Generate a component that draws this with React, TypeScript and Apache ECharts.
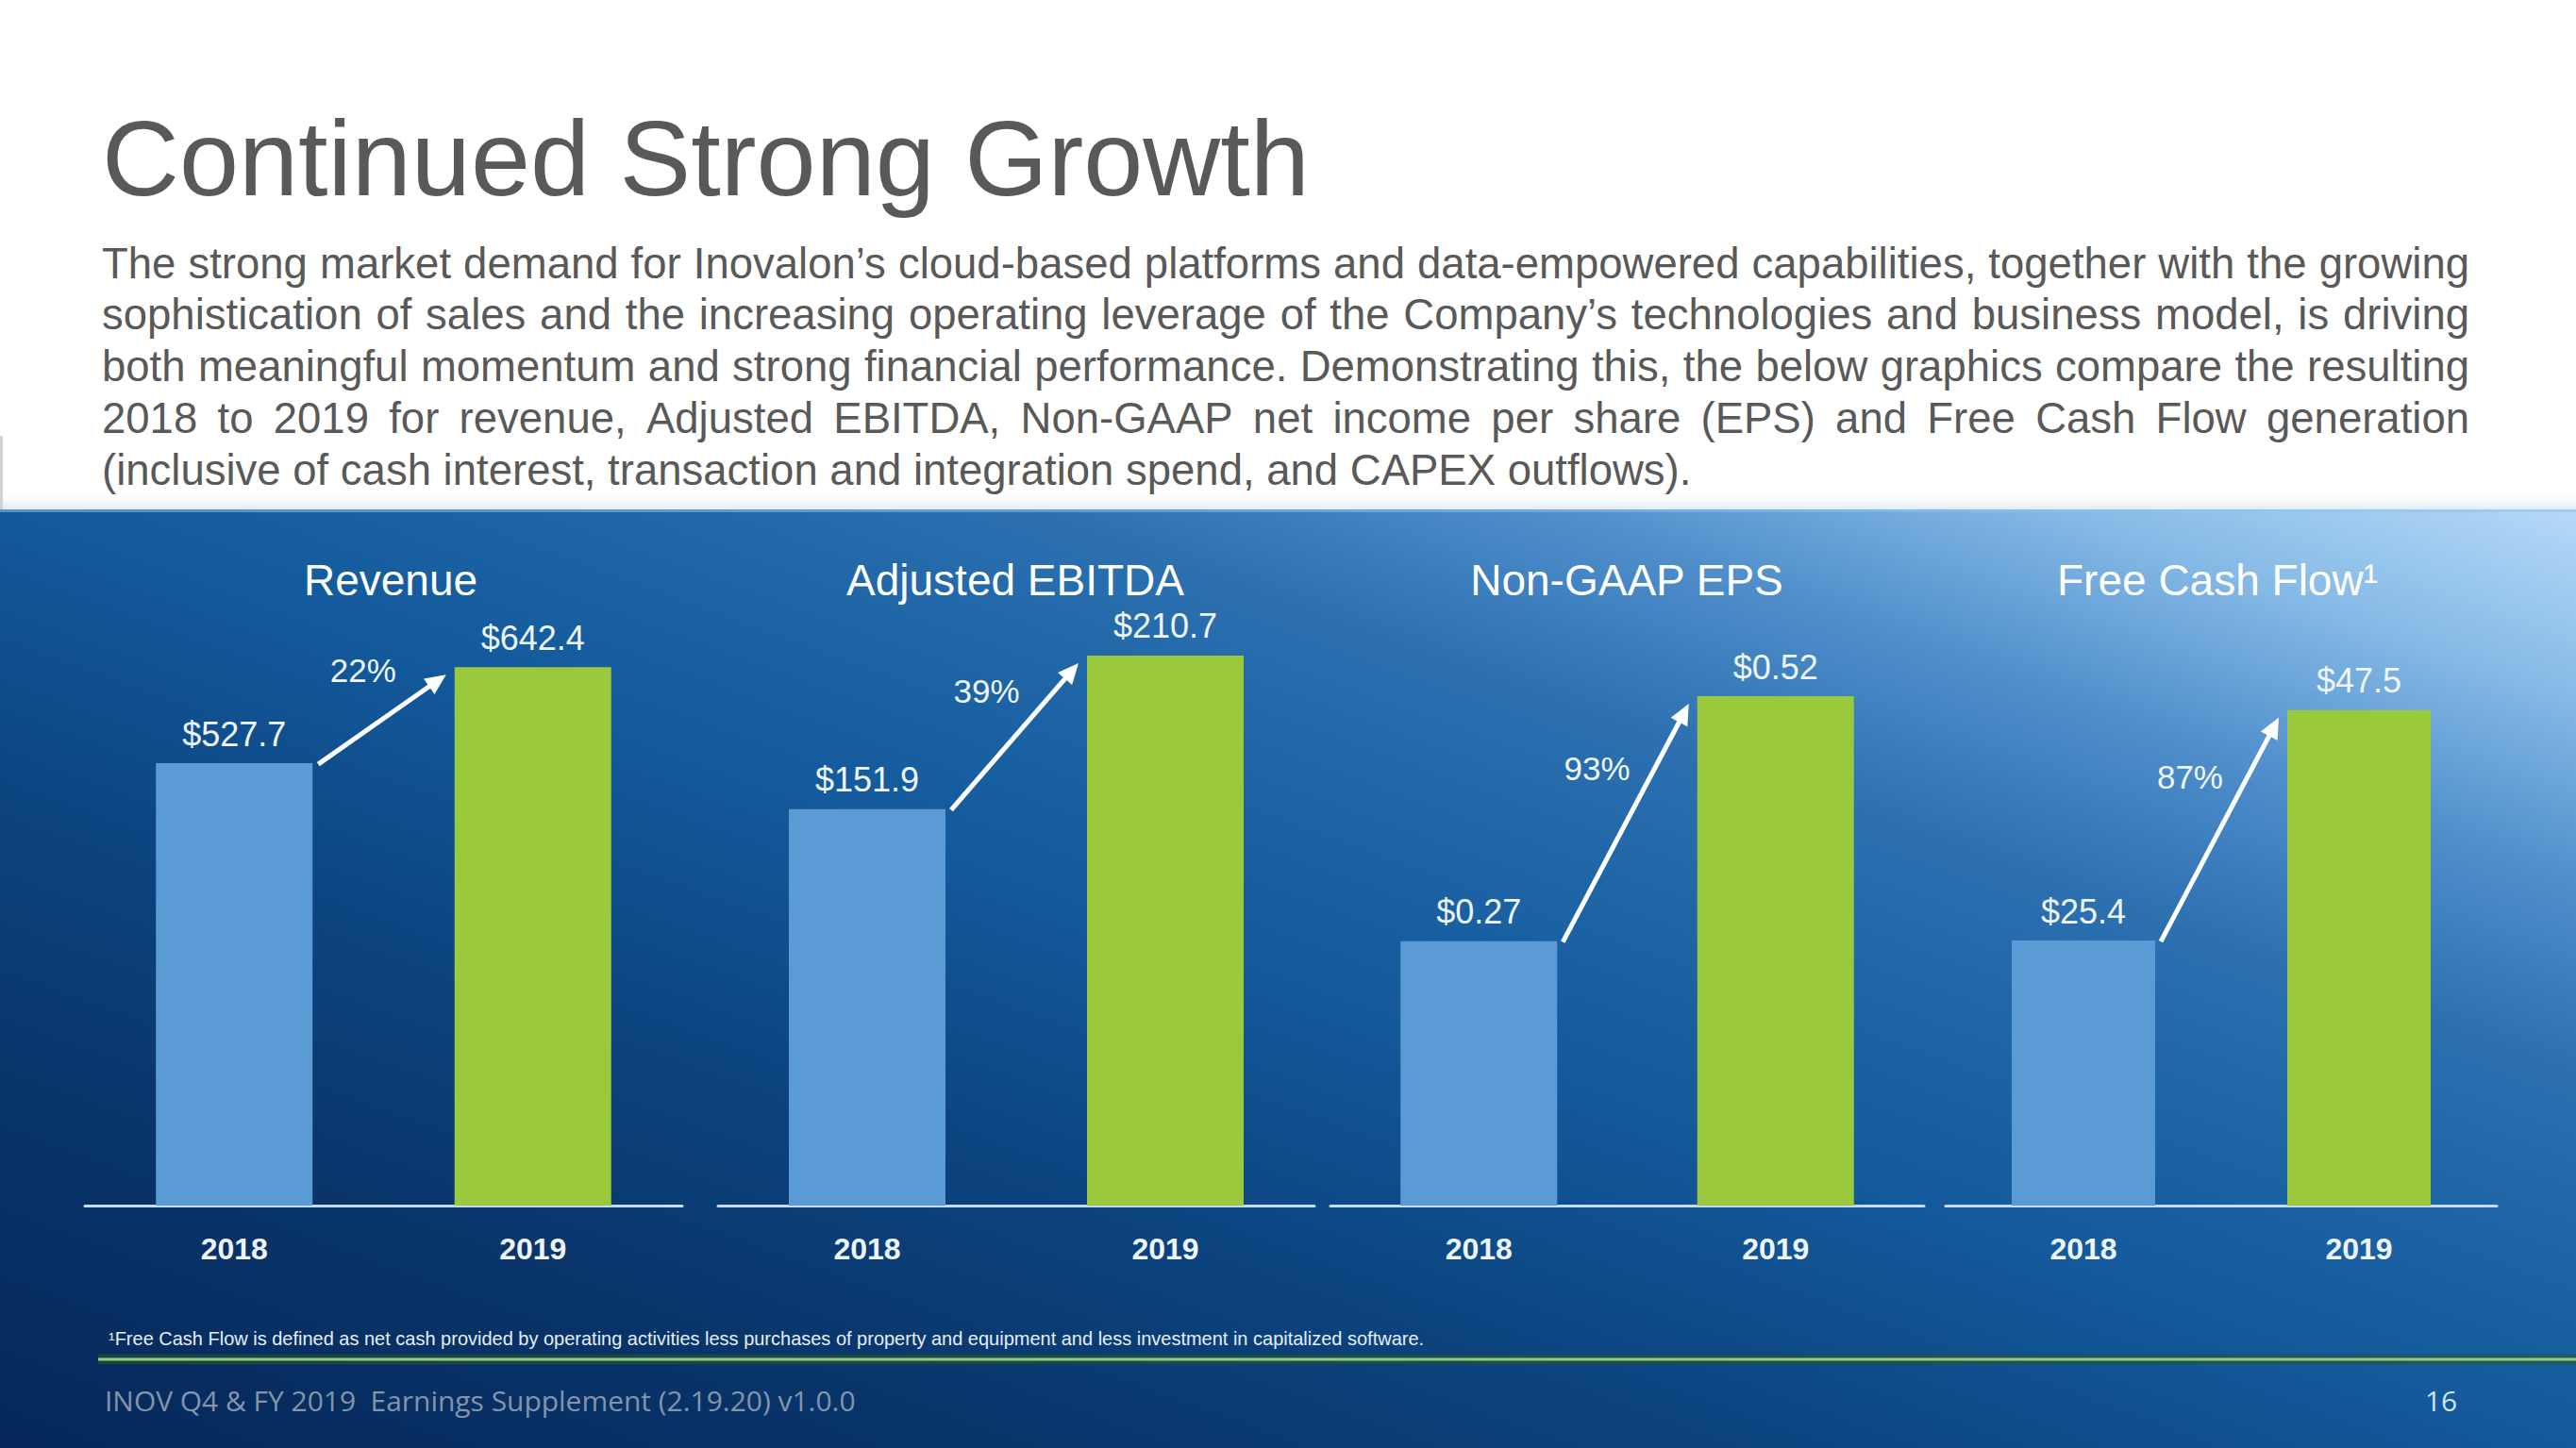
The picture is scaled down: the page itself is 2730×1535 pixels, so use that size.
import React, { useEffect, useRef } from 'react';
import * as echarts from 'echarts';

// ---------- data ----------
const categories = ['2018', '2019'];
const chartTitles = ['Revenue', 'Adjusted EBITDA', 'Non-GAAP EPS', 'Free Cash Flow¹'];
const values2018 = [527.7, 151.9, 0.27, 25.4];
const values2019 = [642.4, 210.7, 0.52, 47.5];
const decimals = [1, 1, 2, 1];
const growthLabels = ['22%', '39%', '93%', '87%'];

const slideTitle = 'Continued Strong Growth';
const paragraphLines = [
  'The strong market demand for Inovalon’s cloud-based platforms and data-empowered capabilities, together with the growing',
  'sophistication of sales and the increasing operating leverage of the Company’s technologies and business model, is driving',
  'both meaningful momentum and strong financial performance. Demonstrating this, the below graphics compare the resulting',
  '2018 to 2019 for revenue, Adjusted EBITDA, Non-GAAP net income per share (EPS) and Free Cash Flow generation',
  '(inclusive of cash interest, transaction and integration spend, and CAPEX outflows).',
];
const footnote =
  '¹Free Cash Flow is defined as net cash provided by operating activities less purchases of property and equipment and less investment in capitalized software.';
const footerText = 'INOV Q4 & FY 2019  Earnings Supplement (2.19.20) v1.0.0';
const pageNumber = '16';

// ---------- layout ----------
const W = 2730;
const H = 1535;
const PANEL_TOP = 540;
const gridLefts = [90, 761, 1410, 2062];
const gridWidths = [633, 632, 629, 584];
const gridTop = 600;
const axisY = 1278;
const yMaxes = [763, 245, 0.653, 61.3];
const barWidths = [166, 166, 166, 152];
const titleCenters = [414, 1076, 1724, 2350];
const labelT = [0.58, 0.58, 0.63, 0.63];

const BLUE = '#5b9bd5';
const GREEN = '#9ac93d';
const FONT = '"Liberation Sans", Arial, Helvetica, sans-serif';
const FOOT_FONT = '"Open Sans", "Noto Sans", sans-serif';

export default function App() {
  const ref = useRef<HTMLDivElement>(null);

  useEffect(() => {
    document.body.style.margin = '0';
    document.body.style.overflow = 'hidden';
    const chart = echarts.init(ref.current as HTMLDivElement, undefined, {
      renderer: 'svg',
      width: W,
      height: H,
    });

    const ctx = document.createElement('canvas').getContext('2d') as CanvasRenderingContext2D;
    const measure = (t: string, size: number, family = FONT, weight = 'normal') => {
      ctx.font = `${weight} ${size}px ${family}`;
      return ctx.measureText(t).width;
    };

    const txt = (
      text: string,
      x: number,
      y: number,
      size: number,
      fill: string,
      align = 'left',
      family = FONT,
      weight = 'normal',
      z = 5
    ) => ({
      type: 'text',
      x,
      y,
      z,
      silent: true,
      style: {
        text,
        fill,
        fontSize: size,
        fontFamily: family,
        fontWeight: weight,
        textAlign: align,
        textVerticalAlign: 'middle',
        align,
        verticalAlign: 'middle',
      },
    });

    const graphics: any[] = [];

    graphics.push({
      type: 'rect',
      z: -100,
      silent: true,
      shape: { x: 0, y: 0, width: W, height: PANEL_TOP },
      style: { fill: '#ffffff' },
    });
    graphics.push({
      type: 'rect',
      z: -99,
      silent: true,
      shape: { x: 0, y: PANEL_TOP - 20, width: W, height: 20 },
      style: {
        fill: new echarts.graphic.LinearGradient(0, 0, 0, 1, [
          { offset: 0, color: 'rgba(255,255,255,0)' },
          { offset: 1, color: 'rgba(225,236,244,1)' },
        ]),
      },
    });
    graphics.push({
      type: 'rect',
      z: -99,
      silent: true,
      shape: { x: 0, y: 462, width: 3, height: PANEL_TOP - 462 },
      style: { fill: '#cfd3d8' },
    });
    graphics.push({
      type: 'rect',
      z: -98,
      silent: true,
      shape: { x: 0, y: PANEL_TOP, width: W, height: H - PANEL_TOP },
      style: {
        fill: new echarts.graphic.LinearGradient(
          2730,
          540,
          2090,
          2297,
          [
            { offset: 0, color: '#b6d9f8' },
            { offset: 0.1, color: '#86bae6' },
            { offset: 0.2, color: '#4f8ecb' },
            { offset: 0.3, color: '#2c70b0' },
            { offset: 0.42, color: '#1a62a3' },
            { offset: 0.5, color: '#13599b' },
            { offset: 0.65, color: '#0c4480' },
            { offset: 0.8, color: '#09356a' },
            { offset: 1, color: '#05275a' },
          ],
          true
        ),
      },
    });
    graphics.push({
      type: 'rect',
      z: -97,
      silent: true,
      shape: { x: 0, y: PANEL_TOP, width: W, height: 3 },
      style: { fill: 'rgba(140,195,235,0.55)' },
    });

    const titleSize = (114 * 1280) / measure(slideTitle, 114);
    graphics.push(txt(slideTitle, 108, 167, titleSize, '#595959'));

    const paraLeft = 108;
    const paraRight = 2617;
    const lastLine = paragraphLines[paragraphLines.length - 1];
    const paraSize = (40 * 1685) / measure(lastLine, 40);
    paragraphLines.forEach((line, i) => {
      const y = 279 + i * 54.9;
      if (i < paragraphLines.length - 1) {
        const words = line.split(' ');
        const widths = words.map((w) => measure(w, paraSize));
        const total = widths.reduce((a, b) => a + b, 0);
        const gap = (paraRight - paraLeft - total) / (words.length - 1);
        let x = paraLeft;
        words.forEach((w, k) => {
          graphics.push(txt(w, x, y, paraSize, '#595959'));
          x += widths[k] + gap;
        });
      } else {
        graphics.push(txt(line, paraLeft, y, paraSize, '#595959'));
      }
    });

    chartTitles.forEach((t, i) => {
      graphics.push(txt(t, titleCenters[i], 615, 46, '#ffffff', 'center'));
    });

    const fnSize = (19 * 1395) / measure(footnote, 19);
    graphics.push(txt(footnote, 115, 1419, fnSize, '#e6eef7'));

    graphics.push({
      type: 'line',
      z: 1,
      silent: true,
      shape: { x1: 104, y1: 1441, x2: W, y2: 1441 },
      style: { stroke: 'rgba(40,85,45,0.55)', lineWidth: 11 },
    });
    graphics.push({
      type: 'line',
      z: 2,
      silent: true,
      shape: { x1: 104, y1: 1441, x2: W, y2: 1441 },
      style: { stroke: '#93cc80', lineWidth: 3 },
    });

    const footSize = (28 * 796) / measure(footerText, 28, FOOT_FONT);
    graphics.push(txt(footerText, 111, 1484, footSize, '#8494ab', 'left', FOOT_FONT));
    graphics.push(txt(pageNumber, 2587, 1484, footSize, '#d2e4f4', 'center', FOOT_FONT));

    const option: any = {
      animation: false,
      backgroundColor: '#ffffff',
      textStyle: { fontFamily: FONT },
      grid: gridLefts.map((l, i) => ({
        left: l,
        top: gridTop,
        width: gridWidths[i],
        height: axisY - gridTop,
        containLabel: false,
      })),
      xAxis: gridLefts.map((_, i) => ({
        type: 'category',
        gridIndex: i,
        data: categories,
        axisLine: { show: true, lineStyle: { color: '#c4dbef', width: 3 } },
        axisTick: { show: false },
        splitLine: { show: false },
        axisLabel: {
          color: '#eef4fa',
          fontWeight: 'bold',
          fontSize: 32,
          margin: 30,
          fontFamily: FONT,
        },
      })),
      yAxis: gridLefts.map((_, i) => ({
        type: 'value',
        gridIndex: i,
        min: 0,
        max: yMaxes[i],
        show: false,
        splitLine: { show: false },
      })),
      series: values2018.map((v, i) => ({
        type: 'bar',
        xAxisIndex: i,
        yAxisIndex: i,
        barWidth: barWidths[i],
        data: [
          { value: v, itemStyle: { color: BLUE } },
          { value: values2019[i], itemStyle: { color: GREEN } },
        ],
        label: {
          show: true,
          position: 'top',
          distance: 13,
          color: '#eef5fb',
          fontSize: 36,
          fontFamily: FONT,
          formatter: (p: any) => '$' + Number(p.value).toFixed(decimals[i]),
        },
      })),
      graphic: { elements: graphics },
    };

    chart.setOption(option);

    const extra: any[] = [];
    values2018.forEach((v, i) => {
      const p0 = chart.convertToPixel({ gridIndex: i }, [categories[0], v]) as number[];
      const p1 = chart.convertToPixel({ gridIndex: i }, [categories[1], values2019[i]]) as number[];
      const sx = p0[0] + barWidths[i] / 2 + 6;
      const sy = p0[1] + 1;
      const ex = p1[0] - barWidths[i] / 2 - 9;
      const ey = p1[1] + 8;
      const dx = ex - sx;
      const dy = ey - sy;
      const len = Math.sqrt(dx * dx + dy * dy);
      const ux = dx / len;
      const uy = dy / len;
      const nx = uy;
      const ny = -ux;
      const headLen = 22;
      const headHalf = 10;
      const bx = ex - ux * headLen;
      const by = ey - uy * headLen;
      extra.push({
        type: 'line',
        z: 20,
        silent: true,
        shape: { x1: sx, y1: sy, x2: bx + ux * 4, y2: by + uy * 4 },
        style: { stroke: '#ffffff', lineWidth: 5 },
      });
      extra.push({
        type: 'polygon',
        z: 20,
        silent: true,
        shape: {
          points: [
            [ex, ey],
            [bx + nx * headHalf, by + ny * headHalf],
            [bx - nx * headHalf, by - ny * headHalf],
          ],
        },
        style: { fill: '#ffffff' },
      });
      const t = labelT[i];
      const lx = sx + dx * t + nx * 54;
      const ly = sy + dy * t + ny * 54;
      extra.push(txt(growthLabels[i], lx, ly, 35, '#eef5fb', 'center', FONT, 'normal', 20));
    });

    chart.setOption({ graphic: { elements: graphics.concat(extra) } });

    return () => {
      chart.dispose();
    };
  }, []);

  return (
    <div
      ref={ref}
      style={{ position: 'absolute', left: 0, top: 0, width: W, height: H }}
    />
  );
}
